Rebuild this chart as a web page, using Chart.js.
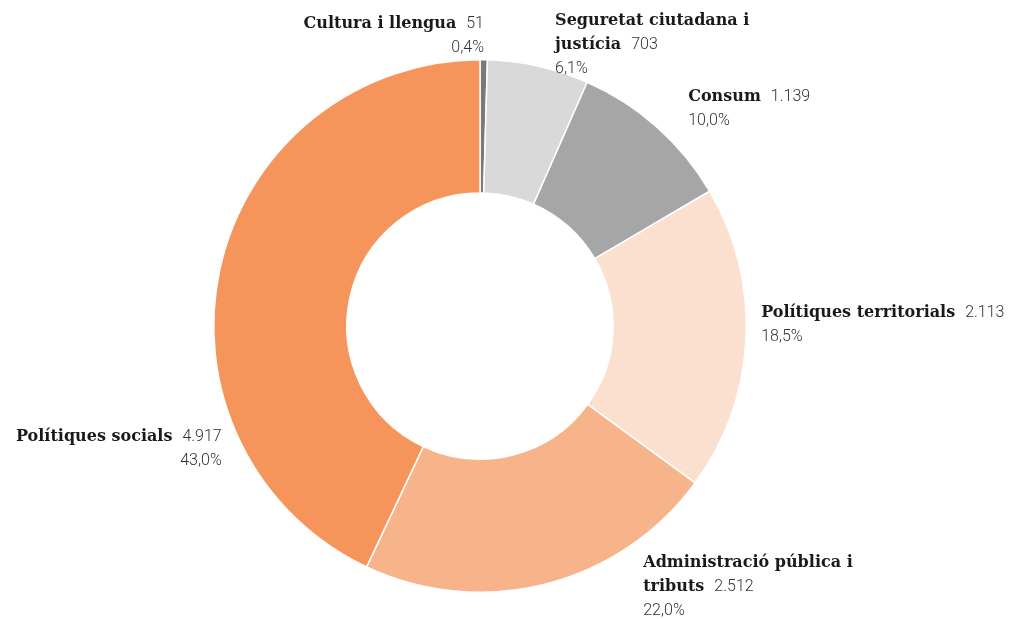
<!DOCTYPE html>
<html>
<head>
<meta charset="utf-8">
<script src="https://cdn.jsdelivr.net/npm/chart.js@4"></script>
<style>
  html, body { margin: 0; padding: 0; background: #fff; }
  #wrap { width: 1010px; height: 619px; position: relative; }
</style>
</head>
<body>
<div id="wrap"><canvas id="donut" width="1010" height="619"></canvas></div>
<script>
// Data
const categories = ['Cultura i llengua', 'Seguretat ciutadana i justícia', 'Consum',
  'Polítiques territorials', 'Administració pública i tributs', 'Polítiques socials'];
const values = [51, 703, 1139, 2113, 2512, 4917];
const valueLabels = ['51', '703', '1.139', '2.113', '2.512', '4.917'];
const percentLabels = ['0,4%', '6,1%', '10,0%', '18,5%', '22,0%', '43,0%'];

const colors = ['#7a7a7a', '#d9d9d9', '#a6a6a6', '#fbdfcf', '#f7b48b', '#f6955b'];

// label placement, offsets in units of the outer radius from the centre
const labelLayout = [
  { dx: 0.015, dy: -1.120, align: 'right', wrap: 400 },
  { dx: 0.282, dy: -1.132, align: 'left', wrap: 205 },
  { dx: 0.782, dy: -0.846, align: 'left', wrap: 400 },
  { dx: 1.056, dy: -0.034, align: 'left', wrap: 400 },
  { dx: 0.613, dy: 0.906, align: 'left', wrap: 220 },
  { dx: -0.970, dy: 0.432, align: 'right', wrap: 400 }
];

const nameFont = 'bold 16px "DejaVu Serif"';
const valueFont = '300 16px Roboto';
const lineH = 24;
const gap = 10;

function wrapWords(ctx, text, maxW) {
  const words = text.split(' ');
  const lines = [];
  let cur = '';
  words.forEach(w => {
    const test = cur ? cur + ' ' + w : w;
    if (cur && ctx.measureText(test).width > maxW) {
      lines.push(cur);
      cur = w;
    } else {
      cur = test;
    }
  });
  if (cur) lines.push(cur);
  return lines;
}

const outsideLabels = {
  id: 'outsideLabels',
  afterDatasetsDraw(chart) {
    const ctx = chart.ctx;
    const meta = chart.getDatasetMeta(0);
    ctx.save();
    ctx.textBaseline = 'alphabetic';
    meta.data.forEach((arc, i) => {
      const lay = labelLayout[i];
      const R = arc.outerRadius;
      const x = arc.x + lay.dx * R;
      let y = arc.y + lay.dy * R;

      ctx.font = nameFont;
      const lines = wrapWords(ctx, categories[i], lay.wrap);
      lines.forEach((ln, k) => {
        const last = k === lines.length - 1;
        ctx.font = nameFont;
        const nw = ctx.measureText(ln).width;
        ctx.font = valueFont;
        const vw = last ? gap + ctx.measureText(valueLabels[i]).width : 0;
        const startX = lay.align === 'left' ? x : x - nw - vw;
        ctx.textAlign = 'left';
        ctx.font = nameFont;
        ctx.fillStyle = '#1a1a1a';
        ctx.fillText(ln, startX, y);
        if (last) {
          ctx.font = valueFont;
          ctx.fillStyle = '#333';
          ctx.fillText(valueLabels[i], startX + nw + gap, y);
        }
        y += lineH;
      });
      ctx.font = valueFont;
      ctx.fillStyle = '#333';
      ctx.textAlign = lay.align;
      ctx.fillText(percentLabels[i], x, y);
    });
    ctx.restore();
  }
};

new Chart(document.getElementById('donut'), {
  type: 'doughnut',
  data: {
    labels: categories,
    datasets: [{
      data: values,
      backgroundColor: colors,
      borderColor: '#ffffff',
      borderWidth: 1.5
    }]
  },
  options: {
    responsive: false,
    animation: false,
    cutout: '50%',
    layout: { padding: { left: 213, right: 263, top: 59, bottom: 26 } },
    plugins: {
      legend: { display: false },
      tooltip: { enabled: false }
    }
  },
  plugins: [outsideLabels]
});
</script>
</body>
</html>
